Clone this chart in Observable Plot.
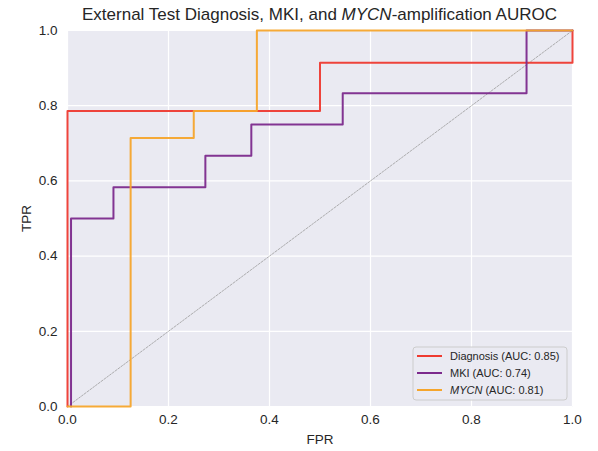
<!DOCTYPE html>
<html><head><meta charset="utf-8">
<script src="https://cdn.jsdelivr.net/npm/d3@7"></script>
<script src="https://cdn.jsdelivr.net/npm/@observablehq/plot@0.6"></script>
<style>body{margin:0;background:#fff;font-family:"Liberation Sans",Arial,sans-serif}</style>
</head><body><div id="chart"></div>
<script>
// Data
const seriesNames = ["Diagnosis", "MKI", "MYCN"];
const seriesAUC = [0.85, 0.74, 0.81];
const seriesItalic = [false, false, true];
const seriesColors = ["#ee3a30", "#7c2a8c", "#f5a52c"];
const fprDiagnosis = [0, 0, 0.5, 0.5, 1, 1];
const tprDiagnosis = [0, 0.786, 0.786, 0.914, 0.914, 1];
const fprMKI = [0.007, 0.007, 0.091, 0.091, 0.273, 0.273, 0.364, 0.364, 0.545, 0.545, 0.909, 0.909, 1];
const tprMKI = [0, 0.5, 0.5, 0.583, 0.583, 0.667, 0.667, 0.75, 0.75, 0.833, 0.833, 1, 1];
const fprMYCN = [0, 0.125, 0.125, 0.25, 0.25, 0.375, 0.375, 1];
const tprMYCN = [0, 0, 0.714, 0.714, 0.786, 0.786, 1, 1];
const chanceLine = [0, 1];
const tickValues = [0, 0.2, 0.4, 0.6, 0.8, 1.0];
const titleParts = [["External Test Diagnosis, MKI, and ", false], ["MYCN", true], ["-amplification AUROC", false]];

const fprs = [fprDiagnosis, fprMKI, fprMYCN];
const tprs = [tprDiagnosis, tprMKI, tprMYCN];
const rows = [];
seriesNames.forEach((s, i) => fprs[i].forEach((f, j) => rows.push({series: s, fpr: f, tpr: tprs[i][j]})));
const diag = chanceLine.map(v => ({fpr: v, tpr: v}));

const W = 598, H = 451, ML = 67, MR = 26, MT = 30, MB = 45;
const chart = Plot.plot({
  width: W, height: H,
  marginLeft: ML, marginRight: MR, marginTop: MT, marginBottom: MB,
  style: {fontFamily: '"Liberation Sans", Arial, sans-serif', fontSize: "13.5px", color: "#262626", background: "white", overflow: "visible"},
  x: {domain: [0, 1], ticks: tickValues, tickFormat: d3.format(".1f"), tickSize: 0, tickPadding: 8, label: "FPR", labelAnchor: "center", labelOffset: 37, labelArrow: "none"},
  y: {domain: [0, 1], ticks: tickValues, tickFormat: d3.format(".1f"), tickSize: 0, tickPadding: 10, label: "TPR", labelAnchor: "center", labelOffset: 46, labelArrow: "none"},
  color: {domain: seriesNames, range: seriesColors},
  marks: [
    Plot.frame({fill: "#eaeaf2", stroke: "none"}),
    Plot.ruleX(tickValues, {stroke: "white", strokeWidth: 1.2}),
    Plot.ruleY(tickValues, {stroke: "white", strokeWidth: 1.2}),
    Plot.line(diag, {x: "fpr", y: "tpr", stroke: "#9a9a9a", strokeWidth: 0.8, strokeDasharray: "2,1.5"}),
    Plot.line(rows, {x: "fpr", y: "tpr", z: "series", stroke: "series", strokeWidth: 2, strokeOpacity: 0.95})
  ]
});
document.getElementById("chart").appendChild(chart);

const svg = d3.select(chart);
// Title
const title = svg.append("text")
  .attr("x", ML + (W - ML - MR) / 2).attr("y", 20)
  .attr("text-anchor", "middle")
  .attr("font-size", 17).attr("fill", "#262626");
titleParts.forEach(([t, it]) => title.append("tspan").attr("font-style", it ? "italic" : "normal").text(t));

// Legend
const lg = svg.append("g").attr("text-anchor", "start");
lg.append("rect").attr("x", 413).attr("y", 347).attr("width", 154).attr("height", 53).attr("rx", 3)
  .attr("fill", "#eaeaf2").attr("fill-opacity", 0.85).attr("stroke", "#cccccc").attr("stroke-width", 1);
seriesNames.forEach((s, i) => {
  const y = 356 + i * 17;
  lg.append("line").attr("x1", 417).attr("x2", 442).attr("y1", y).attr("y2", y)
    .attr("stroke", seriesColors[i]).attr("stroke-width", 2);
  const t = lg.append("text").attr("x", 450).attr("y", y).attr("dy", "0.35em")
    .attr("text-anchor", "start").attr("font-size", 11).attr("fill", "#262626");
  t.append("tspan").attr("font-style", seriesItalic[i] ? "italic" : "normal").text(s);
  t.append("tspan").text(` (AUC: ${seriesAUC[i].toFixed(2)})`);
});
</script></body></html>
